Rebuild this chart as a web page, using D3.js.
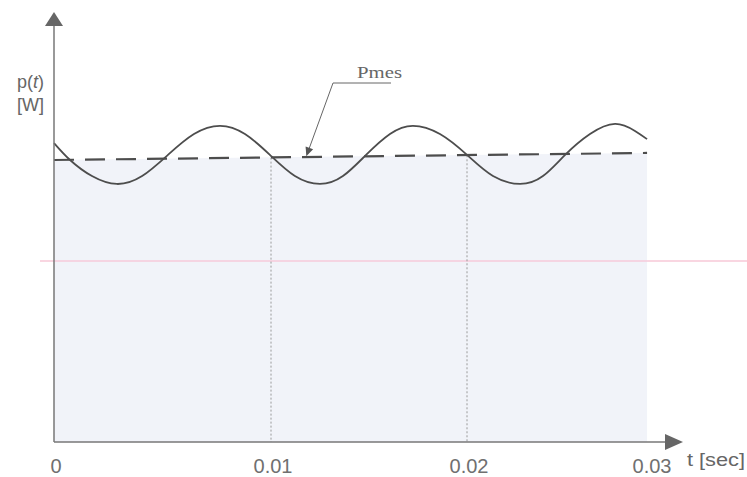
<!DOCTYPE html>
<html>
<head>
<meta charset="utf-8">
<script src="https://cdn.jsdelivr.net/npm/d3@7"></script>
<style>
  body { margin: 0; background: #fff; }
  svg { display: block; }
</style>
</head>
<body>
<div class="chart"></div>
<script>
// data
const tTicks = [0, 0.01, 0.02, 0.03],
      tickLabels = ['0', '0.01', '0.02', '0.03'];

// instantaneous power p(t)
const curveT = [0, 0.00074, 0.00175, 0.0029, 0.00406, 0.00525, 0.00645, 0.00765, 0.0088, 0.00995,
                0.01122, 0.0125, 0.01367, 0.01485, 0.01607, 0.01724, 0.01862, 0.02,
                0.02142, 0.0229, 0.02415, 0.02536, 0.02672, 0.02809, 0.02918, 0.02984],
      curveP = [1.06, 1.0, 0.943, 0.915, 0.943, 1.018, 1.092, 1.121, 1.092, 1.018,
                0.943, 0.915, 0.943, 1.018, 1.092, 1.121, 1.092, 1.018,
                0.943, 0.915, 0.943, 1.018, 1.092, 1.128, 1.103, 1.074];

// mean power Pmes (dashed), as drawn
const pmesT = [0, 0.02984],
      pmesP = [1.0, 1.025];

// dotted period markers
const periodMarks = [0.01, 0.02];
const pmesArrowT = 0.0118;

const width = 747,
      height = 477;

const svg = d3.select('.chart')
  .append('svg')
  .attr('width', width)
  .attr('height', height);

// hand drawn axis is not quite even, so a piecewise scale
const x = d3.scaleLinear()
  .domain(tTicks)
  .range([54, 271, 467, 650]);

const y = d3.scaleLinear()
  .domain([0, 1])
  .range([442, 160]);

const ink = '#4d4d4d';

// scanner streak
svg.append('line')
  .attr('x1', 40).attr('x2', width)
  .attr('y1', 261).attr('y2', 261)
  .attr('stroke', '#f9d6e1')
  .attr('stroke-width', 2);

// shaded area under Pmes
const pmesLine = d3.line()
  .x(function (d, i) { return x(pmesT[i]); })
  .y(function (d, i) { return y(pmesP[i]); });

const areaPmes = d3.area()
  .x(function (d, i) { return x(pmesT[i]); })
  .y0(y(0))
  .y1(function (d, i) { return y(pmesP[i]); });

svg.append('path')
  .datum(pmesT)
  .attr('d', areaPmes)
  .attr('fill', '#f1f3f9');

// redraw the streak faintly across the shading
svg.append('line')
  .attr('x1', x(0)).attr('x2', x(pmesT[1]))
  .attr('y1', 261).attr('y2', 261)
  .attr('stroke', '#f5d4e2')
  .attr('stroke-width', 2);

function pmesAt(t) {
  return pmesP[0] + (pmesP[1] - pmesP[0]) * (t - pmesT[0]) / (pmesT[1] - pmesT[0]);
}

// dotted verticals at each period
svg.selectAll('.period')
  .data(periodMarks)
  .enter()
  .append('line')
  .attr('class', 'period')
  .attr('x1', function (d) { return x(d); })
  .attr('x2', function (d) { return x(d); })
  .attr('y1', function (d) { return y(pmesAt(d)); })
  .attr('y2', y(0))
  .attr('stroke', '#9a9a9a')
  .attr('stroke-width', 1)
  .attr('stroke-dasharray', '2,2');

// dashed Pmes line
svg.append('path')
  .datum(pmesT)
  .attr('d', pmesLine)
  .attr('fill', 'none')
  .attr('stroke', ink)
  .attr('stroke-width', 2.2)
  .attr('stroke-dasharray', '20,11');

// p(t) curve
const line = d3.line()
  .x(function (d, i) { return x(curveT[i]); })
  .y(function (d, i) { return y(curveP[i]); })
  .curve(d3.curveNatural);

svg.append('path')
  .datum(curveT)
  .attr('d', line)
  .attr('fill', 'none')
  .attr('stroke', ink)
  .attr('stroke-width', 1.8);

// axes with arrow heads
svg.append('line')
  .attr('x1', x(0)).attr('x2', x(0))
  .attr('y1', y(0)).attr('y2', 22)
  .attr('stroke', '#777')
  .attr('stroke-width', 1.5);
svg.append('path')
  .attr('d', 'M' + x(0) + ',12 L' + (x(0) - 9) + ',26 L' + (x(0) + 9) + ',26 Z')
  .attr('fill', '#666');

svg.append('line')
  .attr('x1', x(0)).attr('x2', 668)
  .attr('y1', y(0)).attr('y2', y(0))
  .attr('stroke', '#777')
  .attr('stroke-width', 1.5);
svg.append('path')
  .attr('d', 'M683,' + y(0) + ' L665,' + (y(0) - 8) + ' L665,' + (y(0) + 8) + ' Z')
  .attr('fill', '#666');

// tick labels
svg.selectAll('.tick-label')
  .data(tTicks)
  .enter()
  .append('text')
  .attr('class', 'tick-label')
  .attr('x', function (d) { return x(d) + 2; })
  .attr('y', 473)
  .attr('text-anchor', 'middle')
  .attr('font-family', 'Liberation Sans, Arial, sans-serif')
  .attr('font-size', 20)
  .attr('fill', '#707070')
  .attr('textLength', function (d, i) { return i === 0 ? null : 39; })
  .attr('lengthAdjust', 'spacingAndGlyphs')
  .text(function (d, i) { return tickLabels[i]; });

svg.append('text')
  .attr('x', 687)
  .attr('y', 466)
  .attr('font-family', 'Liberation Sans, Arial, sans-serif')
  .attr('font-size', 18)
  .attr('fill', '#666')
  .attr('textLength', 58)
  .attr('lengthAdjust', 'spacingAndGlyphs')
  .text('t [sec]');

// y axis label
const ylab = svg.append('text')
  .attr('x', 44)
  .attr('y', 88)
  .attr('text-anchor', 'end')
  .attr('font-family', 'Liberation Sans, Arial, sans-serif')
  .attr('font-size', 18)
  .attr('fill', '#666');
ylab.append('tspan').text('p(');
ylab.append('tspan').attr('font-style', 'italic').text('t');
ylab.append('tspan').text(')');

svg.append('text')
  .attr('x', 44)
  .attr('y', 111)
  .attr('text-anchor', 'end')
  .attr('font-family', 'Liberation Sans, Arial, sans-serif')
  .attr('font-size', 18)
  .attr('fill', '#666')
  .text('[W]');

// Pmes label with leader arrow
const tipX = x(pmesArrowT),
      tipY = y(pmesAt(pmesArrowT)) - 1;

svg.append('text')
  .attr('x', 357)
  .attr('y', 78)
  .attr('font-family', 'Liberation Serif, Times New Roman, serif')
  .attr('font-size', 17)
  .attr('fill', '#666')
  .attr('textLength', 45)
  .attr('lengthAdjust', 'spacingAndGlyphs')
  .text('Pmes');

svg.append('path')
  .attr('d', 'M391,83 L333,83 L' + (tipX + 3) + ',' + (tipY - 8))
  .attr('fill', 'none')
  .attr('stroke', '#666')
  .attr('stroke-width', 1);

const ang = Math.atan2(tipY - 83, tipX - 333);
const ah = 9, aw = 4;
const bx = tipX - ah * Math.cos(ang), by = tipY - ah * Math.sin(ang);
svg.append('path')
  .attr('d', 'M' + tipX + ',' + tipY +
    ' L' + (bx + aw * Math.sin(ang)) + ',' + (by - aw * Math.cos(ang)) +
    ' L' + (bx - aw * Math.sin(ang)) + ',' + (by + aw * Math.cos(ang)) + ' Z')
  .attr('fill', '#555');
</script>
</body>
</html>
